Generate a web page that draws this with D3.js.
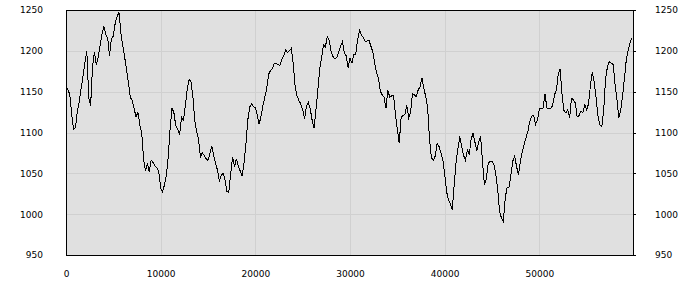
<!DOCTYPE html>
<html>
<head>
<meta charset="utf-8">
<script src="https://cdn.jsdelivr.net/npm/d3@7"></script>
<style>
  body { margin: 0; background: #fff; }
  text { font-family: "DejaVu Sans", Verdana, sans-serif; font-size: 9px; fill: #000; }
</style>
</head>
<body>
<script>
// series sampled every 200 units along x
var step = 200;
var values = [
  1158,1152,1147,1122,1104,1106,1126,1138,1154,1169,
  1186,1200,1143,1133,1180,1199,1183,1192,1207,1220,
  1230,1220,1216,1194,1215,1218,1234,1242,1247,1222,
  1206,1192,1177,1160,1143,1139,1129,1119,1125,1109,
  1099,1067,1053,1062,1052,1066,1063,1059,1057,1052,
  1032,1027,
  1036,1048,1070,1105,1130,1124,1108,1104,1097,1119,
  1115,1132,1152,1165,1162,1145,1115,1101,1092,1070,
  1075,1072,1068,1066,1074,1083,1072,1062,1054,1040,
  1048,1050,1042,1028,1027,1050,1070,1058,1068,1059,
  1053,1047,1062,1085,1115,1131,1135,1132,1130,
  1122,1110,1120,1133,1143,1154,1171,1176,1178,1185,
  1185,1183,1182,1190,1194,1201,1198,1200,1203,1185,
  1157,1145,1139,1135,1128,1117,1132,1137,1129,1115,
  1105,1127,1152,1178,1191,1207,1205,1217,1213,1200,
  1193,1190,1192,1198,1206,1211,1198,1194,1179,1191,
  1185,
  1196,1196,1213,1225,1220,1216,1212,1212,1213,1206,
  1199,1186,1173,1167,1151,1146,1143,1130,1152,1143,
  1145,1145,1122,1104,1087,1118,1121,1122,1133,1118,
  1124,1148,1146,1144,1152,1156,1167,1154,1144,1130,
  1092,1069,1066,1071,1087,1083,1075,1067,1050,1028,
  1017,1013,1005,1035,1063,1080,1095,1083,1072,1066,
  1079,
  1073,1092,1099,1088,1078,1089,1095,1063,1036,1043,
  1062,1065,1065,1061,1049,1030,1004,995,991,1020,
  1033,1033,1048,1065,1071,1058,1048,1065,1076,1086,
  1094,1102,1114,1120,1121,1110,1115,1129,1129,1130,
  1147,1130,1129,1129,1133,1146,1152,1172,1178,1146,
  1127,1124,1128,1118,1142,1140,1136,1119,1121,1126,
  1124,1134,1128,1135,1158,1174,1161,1142,1120,1109,
  1107,1128,1166,1181,1187,1185,1183,1159,1140,1118,
  1128,1146,1167,1191,1201,1211,1216
];
var xTicks = [0, 10000, 20000, 30000, 40000, 50000];
var yTicks = [950, 1000, 1050, 1100, 1150, 1200, 1250];
var xExtent = [0, 60000];
var yExtent = [950, 1250];

var margin = {top: 10, right: 66, bottom: 45, left: 66};
var width = 700 - margin.left - margin.right,
    height = 300 - margin.top - margin.bottom;

var svg = d3.select('body').append('svg')
    .attr('width', 700)
    .attr('height', 300);

var g = svg.append('g')
    .attr('transform', 'translate(' + margin.left + ',' + margin.top + ')');

var x = d3.scaleLinear().domain(xExtent).range([0, width]);
var y = d3.scaleLinear().domain(yExtent).range([height, 0]);

// plot background
g.append('rect')
    .attr('width', width)
    .attr('height', height)
    .style('fill', '#e0e0e0');

// grid
g.selectAll('.hgrid').data(yTicks).enter().append('line')
    .attr('class', 'hgrid')
    .attr('x1', 0).attr('x2', width)
    .attr('y1', function(d) { return Math.round(y(d)) + 0.5; })
    .attr('y2', function(d) { return Math.round(y(d)) + 0.5; })
    .style('stroke', '#d0d0d0');

g.selectAll('.vgrid').data(xTicks).enter().append('line')
    .attr('class', 'vgrid')
    .attr('y1', 0).attr('y2', height)
    .attr('x1', function(d) { return Math.round(x(d)) + 0.5; })
    .attr('x2', function(d) { return Math.round(x(d)) + 0.5; })
    .style('stroke', '#d0d0d0');

// the series
var line = d3.line()
    .x(function(d, i) { return x(i * step); })
    .y(function(d) { return y(d); });

g.append('path')
    .datum(values)
    .attr('d', line)
    .attr('shape-rendering', 'crispEdges')
    .style('fill', 'none')
    .style('stroke', '#000')
    .style('stroke-width', 1);

// axes
var fmt = d3.format('d');
var left = g.append('g')
    .call(d3.axisLeft(y).tickValues(yTicks).tickFormat(fmt).tickSize(0).tickPadding(23));
var right = g.append('g')
    .attr('transform', 'translate(' + width + ',0)')
    .call(d3.axisRight(y).tickValues(yTicks).tickFormat(fmt).tickSize(2).tickPadding(19));
var bottom = g.append('g')
    .attr('transform', 'translate(0,' + height + ')')
    .call(d3.axisBottom(x).tickValues(xTicks).tickFormat(fmt).tickSize(0).tickPadding(16));

[left, right, bottom].forEach(function(a) {
    a.select('.domain').remove();
    a.attr('font-family', null).attr('font-size', null);
    a.selectAll('line').style('stroke', '#000').attr('shape-rendering', 'crispEdges');
});

// frame
g.append('rect')
    .attr('x', 0.5).attr('y', 0.5)
    .attr('width', width - 1)
    .attr('height', height)
    .style('fill', 'none')
    .style('stroke', '#000')
    .attr('shape-rendering', 'crispEdges');
</script>
</body>
</html>
